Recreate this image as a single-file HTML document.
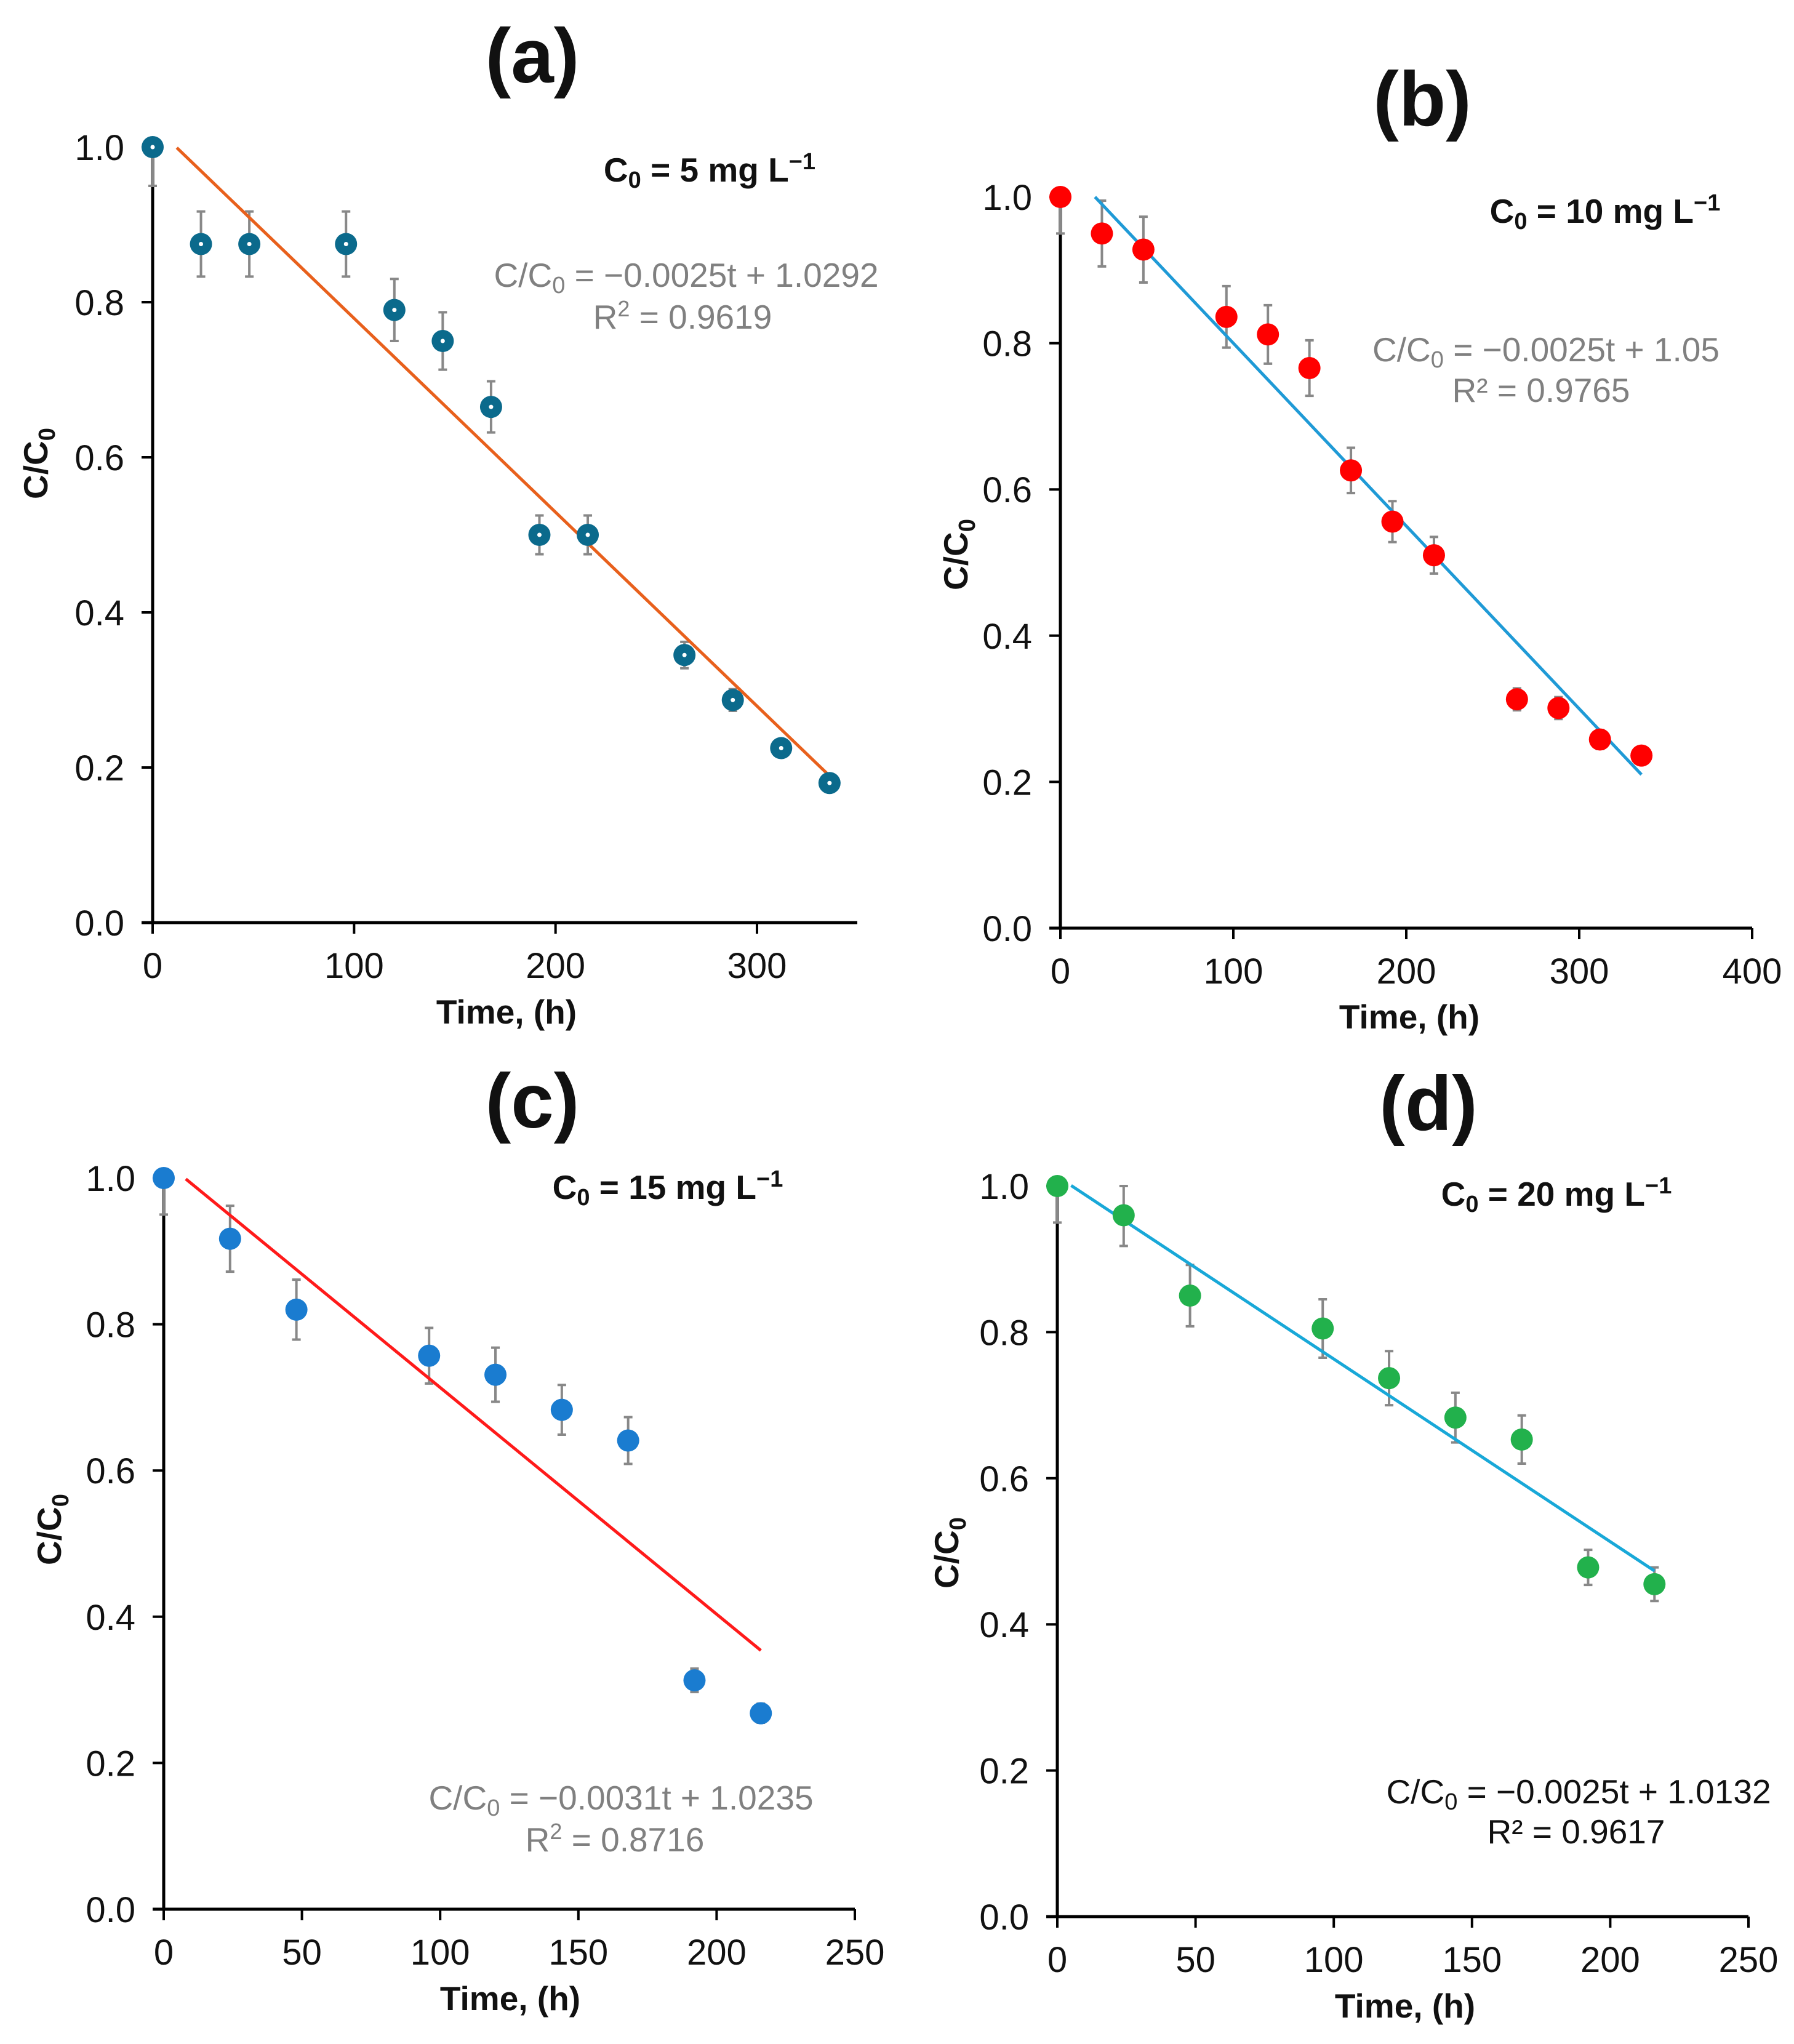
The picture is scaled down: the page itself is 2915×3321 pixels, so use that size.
<!DOCTYPE html>
<html><head><meta charset="utf-8">
<style>
html,body{margin:0;padding:0;background:#fff;}
svg{display:block;font-family:"Liberation Sans",Arial,sans-serif;}
</style></head>
<body>
<svg id="fig" width="2915" height="3321" viewBox="0 0 2915 3321" xmlns="http://www.w3.org/2000/svg"></svg>
<script>
const times = [0,24,48,96,120,144,168,192,216,264,288,312,336];
const timesShort = [0,24,48,96,120,144,168,192,216];
const valuesA = [1.0,0.875,0.875,0.875,0.79,0.75,0.665,0.5,0.5,0.345,0.287,0.225,0.18];
const errorsA = [0.05,0.042,0.042,0.042,0.04,0.037,0.033,0.025,0.025,0.017,0.014,0.011,0.009];
const valuesB = [1.0,0.95,0.928,0.836,0.812,0.766,0.626,0.556,0.51,0.313,0.301,0.258,0.236];
const errorsB = [0.05,0.045,0.045,0.042,0.04,0.038,0.031,0.028,0.025,0.015,0.015,0.013,0.012];
const valuesC = [1.0,0.917,0.82,0.757,0.731,0.683,0.641,0.313,0.268];
const errorsC = [0.05,0.045,0.041,0.038,0.037,0.034,0.032,0.016,0.013];
const valuesD = [1.0,0.96,0.85,0.805,0.737,0.683,0.653,0.478,0.455];
const errorsD = [0.05,0.042,0.042,0.04,0.037,0.034,0.033,0.024,0.023];
const slopes = [-0.0025,-0.0025,-0.0031,-0.0025];
const intercepts = [1.0292,1.05,1.0235,1.0132];
const fitRanges = [[12,336],[20,336],[8,216],[5,216]];
const yTicks = [0,0.2,0.4,0.6,0.8,1.0];
const xTicksAB = [[0,100,200,300],[0,100,200,300,400]];
const xTicksCD = [0,50,100,150,200,250];

const NS="http://www.w3.org/2000/svg";
const svg=document.getElementById('fig');
function mk(tag,attrs,parent){const e=document.createElementNS(NS,tag);for(const k in attrs)e.setAttribute(k,attrs[k]);(parent||svg).appendChild(e);return e;}

const panels=[
 {id:'a',x0:248,x1:1230,xv1:300,xEnd:1393,y0:1499,y1:239,t:times,v:valuesA,e:errorsA,xt:xTicksAB[0],mc:'#0b6a8c',dot:true,lc:'#e8601c',
  label:[865,89],ytitle:[59,753],xtitle:[823,1643],title:[1153,276,'5'],eq:[1115,447],r2:[1109,515],eqc:'#808080',eqt:'−0.0025t + 1.0292',r2t:'0.9619',sup:true},
 {id:'b',x0:1723,x1:2847,xv1:400,xEnd:2847,y0:1508,y1:320,t:times,v:valuesB,e:errorsB,xt:xTicksAB[1],mc:'#ff0000',dot:false,lc:'#1f9ad6',
  label:[2311,159],ytitle:[1554,901],xtitle:[2290,1651],title:[2608,343,'10'],eq:[2512,568],r2:[2504,634],eqc:'#808080',eqt:'−0.0025t + 1.05',r2t:'0.9765',sup:false},
 {id:'c',x0:266,x1:1389,xv1:250,xEnd:1389,y0:3102,y1:1914,t:timesShort,v:valuesC,e:errorsC,xt:xTicksCD,mc:'#1a7cd0',dot:false,lc:'#ff1a1a',
  label:[865,1787],ytitle:[81,2485],xtitle:[829,3246],title:[1085,1929,'15'],eq:[1009,2921],r2:[999,2989],eqc:'#808080',eqt:'−0.0031t + 1.0235',r2t:'0.8716',sup:true},
 {id:'d',x0:1718,x1:2841,xv1:250,xEnd:2841,y0:3114,y1:1927,t:timesShort,v:valuesD,e:errorsD,xt:xTicksCD,mc:'#22b14c',dot:false,lc:'#18a8d8',
  label:[2321,1791],ytitle:[1539,2523],xtitle:[2283,3258],title:[2529,1940,'20'],eq:[2565,2911],r2:[2561,2976],eqc:'#111',eqt:'−0.0025t + 1.0132',r2t:'0.9617',sup:false}
];

panels.forEach((p,pi)=>{
  const g=mk('g',{});
  
  
  const X=t=>p.x0+(t/p.xv1)*(p.x1-p.x0);
  const Y=v=>p.y0+v*(p.y1-p.y0);
  const lab=mk('text',{x:p.label[0],y:p.label[1]+45,'text-anchor':'middle','font-size':125,'font-weight':'bold',fill:'#111'},g);
  lab.textContent='('+p.id+')';
  
  
  const ya=mk('line',{x1:p.x0,y1:p.y0,x2:p.x0,y2:Y(1.0)-2,stroke:'#000','stroke-width':5},g);
  
  
  const xa=mk('line',{x1:p.x0-18,y1:p.y0,x2:p.xEnd,y2:p.y0,stroke:'#000','stroke-width':5},g);
  
  
  yTicks.forEach(v=>{
    mk('line',{x1:p.x0-18,y1:Y(v),x2:p.x0,y2:Y(v),stroke:'#000','stroke-width':4},g);
    const t=mk('text',{x:p.x0-46,y:Y(v)+21,'text-anchor':'end','font-size':58,fill:'#111'},g);
    t.textContent=v.toFixed(1);
    
    
  });
  p.xt.forEach(v=>{
    mk('line',{x1:X(v),y1:p.y0,x2:X(v),y2:p.y0+18,stroke:'#000','stroke-width':4},g);
    const t=mk('text',{x:X(v),y:p.y0+90,'text-anchor':'middle','font-size':58,fill:'#111'},g);
    t.textContent=v;
    
    
  });
  const xt=mk('text',{x:p.xtitle[0],y:p.xtitle[1]+20,'text-anchor':'middle','font-size':55,'font-weight':'bold',fill:'#111'},g);
  xt.textContent='Time, (h)';
  
  
  const yt=mk('text',{x:0,y:0,'text-anchor':'middle','font-size':55,'font-weight':'bold',fill:'#111',transform:`translate(${p.ytitle[0]+18},${p.ytitle[1]}) rotate(-90)`},g);
  yt.innerHTML='C/C<tspan font-size="38" dy="12">0</tspan>';
  
  
  p.t.forEach((t,i)=>{
    const cx=X(t),top=Y(Math.min(1.0,p.v[i]+p.e[i])),bot=Y(p.v[i]-p.e[i]);
    const eb=mk('path',{d:`M${cx},${top}V${bot}M${cx-7},${top}H${cx+7}M${cx-7},${bot}H${cx+7}`,stroke:'#888','stroke-width':4,fill:'none'},g);
    
    
  });
  const r=fitRanges[pi];
  const fl=mk('line',{x1:X(r[0]),y1:Y(intercepts[pi]+slopes[pi]*r[0]),x2:X(r[1]),y2:Y(intercepts[pi]+slopes[pi]*r[1]),stroke:p.lc,'stroke-width':5},g);
  
  
  p.t.forEach((t,i)=>{
    const c=mk('circle',{cx:X(t),cy:Y(p.v[i]),r:18,fill:p.mc},g);
    
    
    if(p.dot) mk('circle',{cx:X(t),cy:Y(p.v[i]),r:3.5,fill:'#fff'},g);
  });
  const ti=mk('text',{x:p.title[0],y:p.title[1]+19,'text-anchor':'middle','font-size':55,'font-weight':'bold',fill:'#111'},g);
  ti.innerHTML=`C<tspan font-size="38" dy="10">0</tspan><tspan dy="-10"> = ${p.title[2]} mg L</tspan><tspan font-size="38" dy="-20">−1</tspan>`;
  
  
  const eq=mk('text',{x:p.eq[0],y:p.eq[1]+19,'text-anchor':'middle','font-size':55,fill:p.eqc},g);
  eq.innerHTML=`C/C<tspan font-size="38" dy="10">0</tspan><tspan dy="-10"> = ${p.eqt}</tspan>`;
  
  
  const r2=mk('text',{x:p.r2[0],y:p.r2[1]+19,'text-anchor':'middle','font-size':55,fill:p.eqc},g);
  r2.innerHTML=p.sup?`R<tspan font-size="36" dy="-20">2</tspan><tspan dy="20"> = ${p.r2t}</tspan>`:`R² = ${p.r2t}`;
  
  
});
</script>
</body></html>
